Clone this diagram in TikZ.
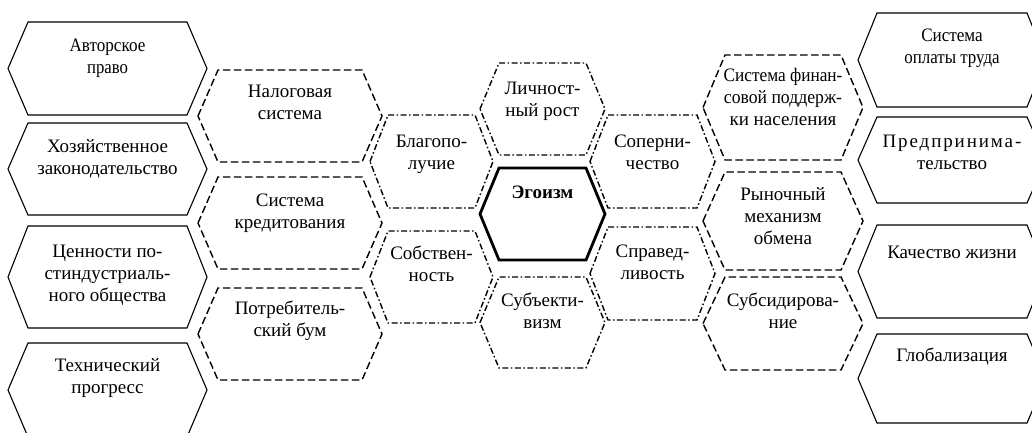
\documentclass[tikz,border=0pt]{standalone}
\usepackage{fontspec}
\setmainfont{Liberation Serif}
\newcommand\cond[2][0.9]{\scalebox{#1}[1]{#2}}
\begin{document}
\begin{tikzpicture}[x=1pt,y=-1pt,
  outerhex/.style={line width=1.1pt, line join=miter},
  dashhex/.style={line width=1.4pt, dash pattern=on 7.5pt off 3.5pt},
  dothex/.style={line width=1.4pt, dash pattern=on 6pt off 2.5pt on 1.5pt off 2.5pt},
  corehex/.style={line width=2.8pt, line join=miter},
  lbl/.style={align=center, inner sep=0pt, anchor=north, font=\fontsize{19}{22}\selectfont}]
\useasboundingbox (0,0) rectangle (1032,432);
\clip (0,0) rectangle (1032,432);
\newcommand\hexcell[9]{%
  \draw[#1] ({#3-#6},{(#4+#5)/2}) -- ({#3-#6+#7},#4) -- ({#3+#6-#7},#4) -- ({#3+#6},{(#4+#5)/2}) -- ({#3+#6-#7},#5) -- ({#3-#6+#7},#5) -- cycle;
  \node[lbl] (#2) at (#3,{#8-11}) {\strut #9};}
% left outer column
\hexcell{outerhex}{lo1}{107.5}{22}{115}{99.5}{20}{47}{\cond{Авторское}\\\cond[0.88]{право}}
\hexcell{outerhex}{lo2}{107.5}{123}{215}{99.5}{20}{148}{Хозяйственное\\законодательство}
\hexcell{outerhex}{lo3}{107.5}{226}{328}{99.5}{20}{253}{Ценности по-\\стиндустриаль-\\ного общества}
\hexcell{outerhex}{lo4}{107.5}{343}{437}{99.5}{20}{367}{Технический\\прогресс}
% left dashed column
\hexcell{dashhex}{ld1}{290}{70}{162}{92}{20}{93}{Налоговая\\система}
\hexcell{dashhex}{ld2}{290}{177}{269}{92}{20}{202}{Система\\кредитования}
\hexcell{dashhex}{ld3}{290}{288}{380}{92}{20}{310}{Потребитель-\\ский бум}
% left dash-dot column
\hexcell{dothex}{lm1}{431.5}{115}{208}{61.5}{18}{143}{Благопо-\\лучие}
\hexcell{dothex}{lm2}{431.5}{231}{323}{61.5}{18}{255}{Собствен-\\ность}
% center column
\hexcell{dothex}{c1}{542.5}{63}{155}{62.5}{19}{90}{Личност-\\ный рост}
\hexcell{corehex}{c2}{542.5}{168}{260}{62.5}{19}{194}{\textbf{Эгоизм}}
\hexcell{dothex}{c3}{542.5}{277}{368}{62.5}{19}{302}{Субъекти-\\визм}
% right dash-dot column
\hexcell{dothex}{rm1}{652.5}{115}{208}{62.5}{18}{143}{Соперни-\\чество}
\hexcell{dothex}{rm2}{652.5}{227}{320}{62.5}{18}{253}{Справед-\\ливость}
% right dashed column
\hexcell{dashhex}{rd1}{783}{55}{160}{80}{22}{77}{\cond[0.91]{Система финан-}\\\cond[0.93]{совой поддерж-}\\ки населения}
\hexcell{dashhex}{rd2}{783}{172}{270}{80}{22}{196}{Рыночный\\механизм\\обмена}
\hexcell{dashhex}{rd3}{783}{277}{370}{80}{22}{302}{Субсидирова-\\ние}
% right outer column
\hexcell{outerhex}{ro1}{952}{13}{107}{94}{19}{37}{\cond{Система}\\\cond[0.89]{оплаты труда}}
\hexcell{outerhex}{ro2}{952}{117}{203}{94}{19}{143}{{\addfontfeature{LetterSpace=10}Предпринима-}\\тельство}
\hexcell{outerhex}{ro3}{952}{225}{318}{94}{19}{254}{Качество жизни}
\hexcell{outerhex}{ro4}{952}{334}{423}{94}{19}{357}{Глобализация}
\end{tikzpicture}
\end{document}
